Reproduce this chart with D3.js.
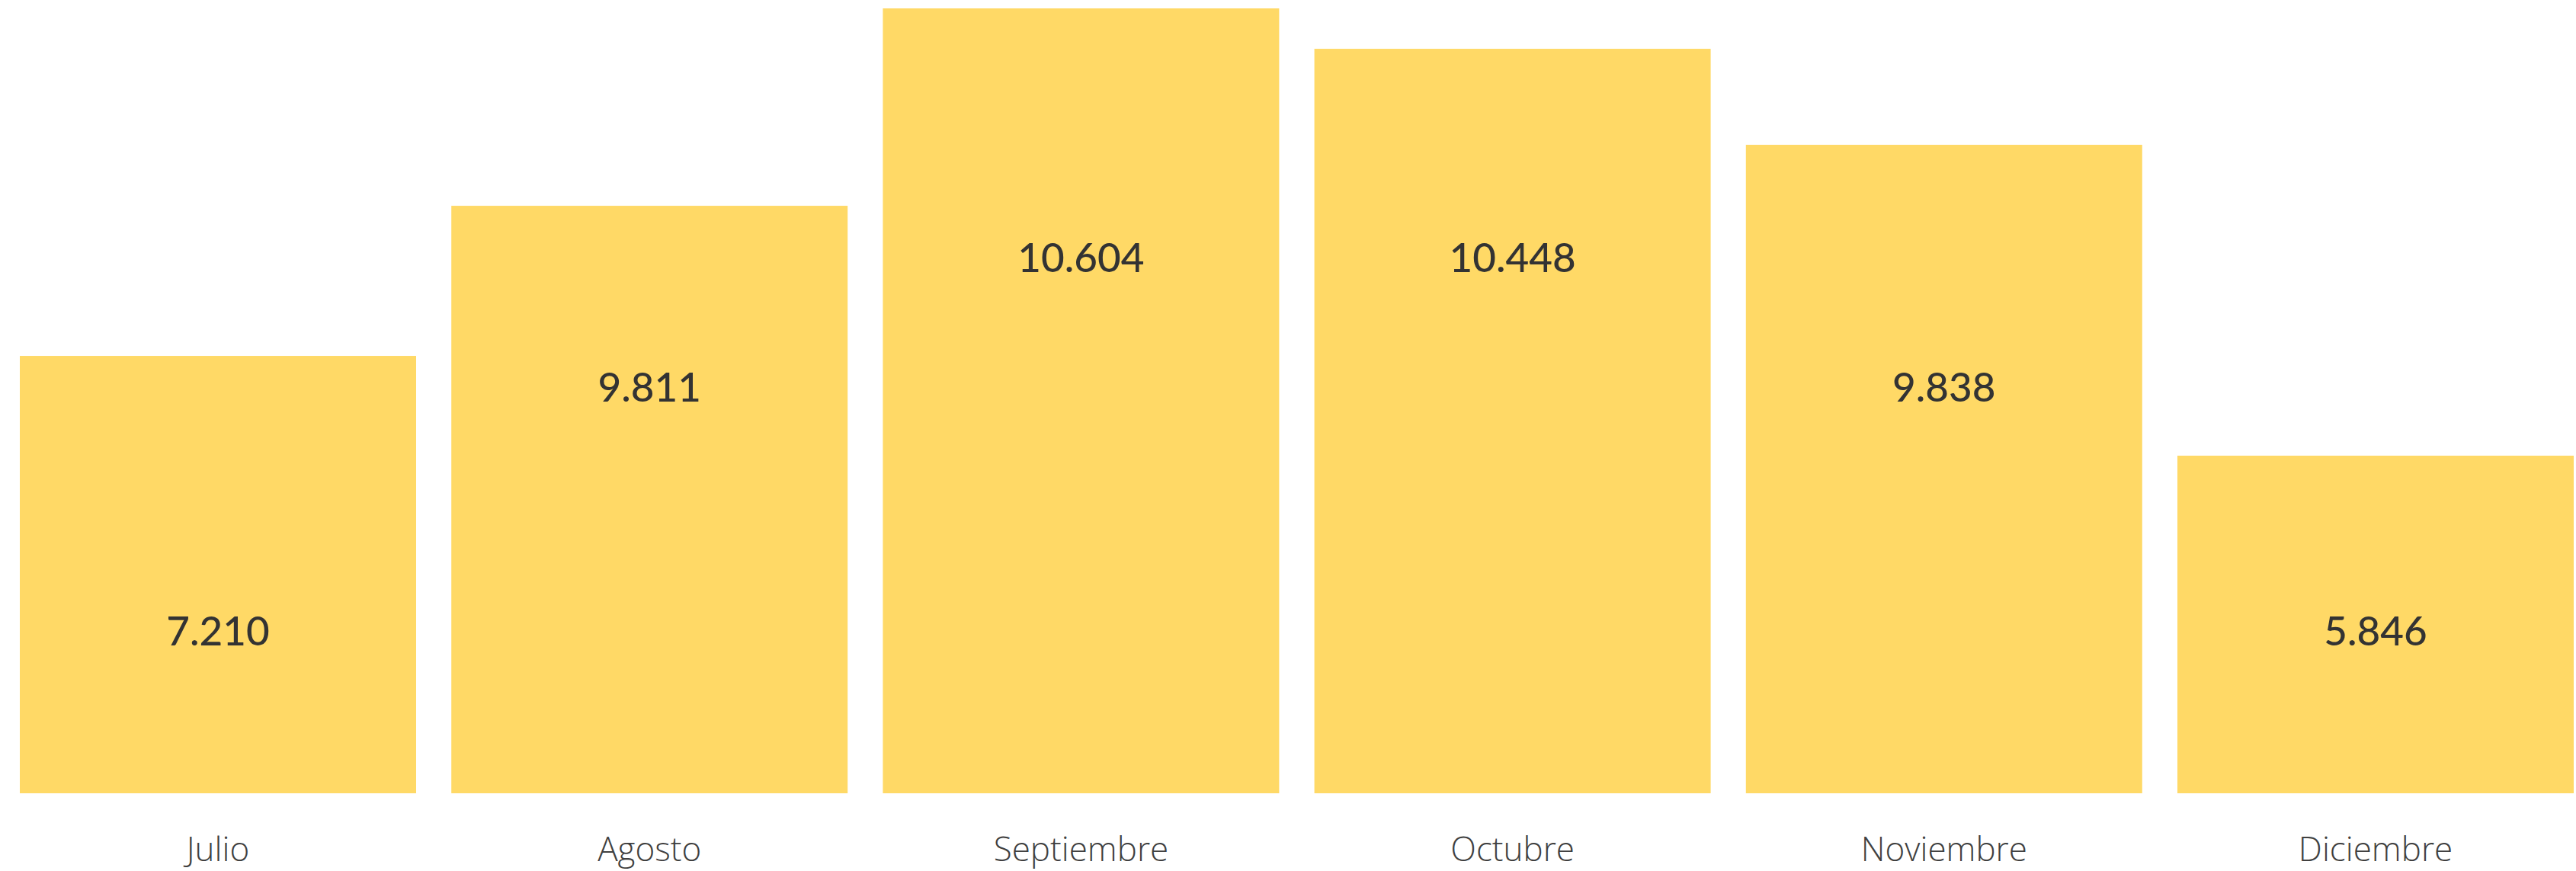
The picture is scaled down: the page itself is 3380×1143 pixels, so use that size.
<!DOCTYPE html>
<html>
<head>
<meta charset="utf-8">
<script src="https://cdn.jsdelivr.net/npm/d3@7"></script>
<style>
  body { margin: 0; background: #fff; }
  svg { display: block; }
</style>
</head>
<body>
<div id="chart"></div>
<script>
// months on the x axis
const months = ["Julio", "Agosto", "Septiembre", "Octubre", "Noviembre", "Diciembre"];
// bar levels as drawn (same units as the top bar)
const barValues = [5909, 7937, 10604, 10058, 8761, 4561];
// printed value labels
const valueLabels = ["7.210", "9.811", "10.604", "10.448", "9.838", "5.846"];

const width = 3380;
const height = 1143;

const svg = d3.select("#chart").append("svg")
    .attr("width", width)
    .attr("height", height);

// band scale for the six months
const x = d3.scaleBand()
    .domain(months)
    .range([26, 3377])
    .paddingInner(0.0816);

const y = d3.scaleLinear()
    .domain([0, d3.max(barValues)])
    .range([1041, 11]);

// labels sit on three tiers, symmetric from the outside in
const tierY = d3.scaleOrdinal()
    .domain([0, 1, 2])
    .range([847, 527, 357]);

const data = months.map((m, i) => ({
    month: m,
    value: barValues[i],
    label: valueLabels[i],
    tier: Math.min(i, months.length - 1 - i)
}));

// bars
svg.append("g")
    .selectAll("rect")
    .data(data)
    .enter().append("rect")
    .attr("x", d => x(d.month))
    .attr("y", d => y(d.value))
    .attr("width", x.bandwidth())
    .attr("height", d => y(0) - y(d.value))
    .attr("fill", "#FFD966");

// value labels inside the bars
svg.append("g")
    .selectAll("text")
    .data(data)
    .enter().append("text")
    .attr("x", d => x(d.month) + x.bandwidth() / 2)
    .attr("y", d => tierY(d.tier))
    .attr("text-anchor", "middle")
    .attr("font-family", "Lato, 'Open Sans', sans-serif")
    .attr("font-weight", 500)
    .attr("font-size", 53)
    .attr("fill", "#333333")
    .text(d => d.label);

// month axis (no line, no ticks)
const xAxis = d3.axisBottom(x).tickSize(0).tickPadding(0);
const axisG = svg.append("g")
    .attr("transform", "translate(0,1130)")
    .call(xAxis);
axisG.select(".domain").remove();
axisG.selectAll("text")
    .attr("dy", 0)
    .attr("font-family", "'Open Sans', Lato, sans-serif")
    .attr("font-weight", 300)
    .attr("font-size", 44)
    .attr("fill", "#404040");
</script>
</body>
</html>
